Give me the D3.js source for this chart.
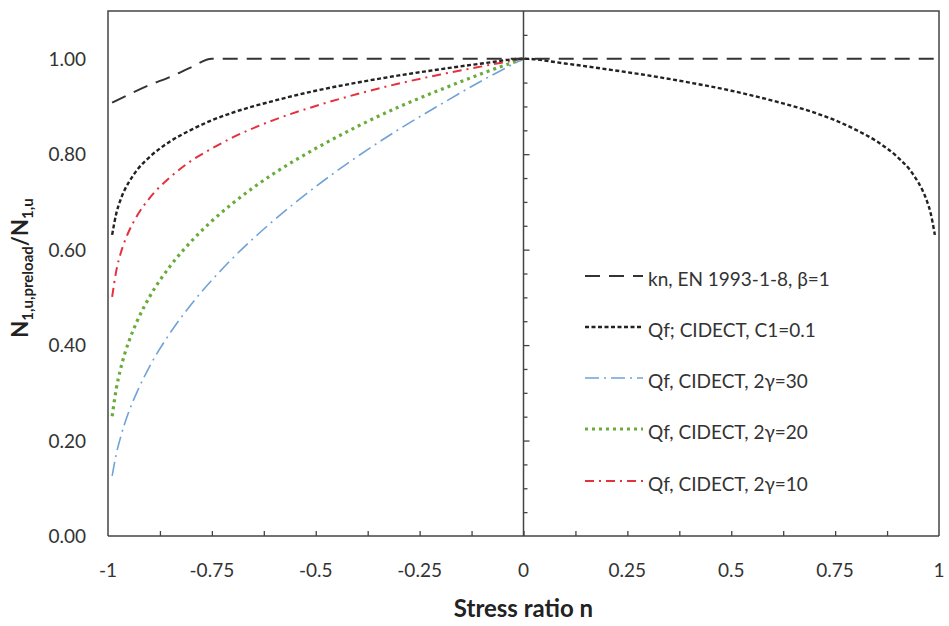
<!DOCTYPE html>
<html>
<head>
<meta charset="utf-8">
<script src="https://cdn.jsdelivr.net/npm/d3@7"></script>
<style>
  body { margin: 0; background: #fff; }
  svg { display: block; font-family: Lato, "Liberation Sans", sans-serif; }
</style>
</head>
<body>
<div id="chart"></div>
<script>
// stress ratio points (compression side)
const nLeft = [-0.99, -0.98, -0.97, -0.96, -0.95, -0.93, -0.9, -0.85, -0.8, -0.75, -0.7, -0.6, -0.5, -0.4, -0.3, -0.2, -0.1, 0];
const nRight = [0.1, 0.2, 0.3, 0.4, 0.5, 0.6, 0.7, 0.75, 0.8, 0.85, 0.9, 0.93, 0.95, 0.96, 0.97, 0.98, 0.99];

const knN = [-0.99, -0.95, -0.9, -0.85, -0.8, -0.75, 0, 1];
const knVals = [0.908, 0.925, 0.945, 0.962, 0.982, 1.0, 1.0, 1.0];

const qfC1Left = [0.631, 0.676, 0.704, 0.725, 0.741, 0.767, 0.794, 0.827, 0.851, 0.871, 0.887, 0.912, 0.933, 0.950, 0.965, 0.978, 0.990, 1.0];
const qfC1Right = [0.990, 0.978, 0.965, 0.950, 0.933, 0.912, 0.887, 0.871, 0.851, 0.827, 0.794, 0.767, 0.741, 0.725, 0.704, 0.676, 0.631];
const qfG30 = [0.126, 0.172, 0.206, 0.235, 0.260, 0.302, 0.355, 0.426, 0.485, 0.536, 0.582, 0.662, 0.732, 0.795, 0.852, 0.904, 0.954, 1.0];
const qfG20 = [0.251, 0.309, 0.349, 0.381, 0.407, 0.450, 0.501, 0.566, 0.617, 0.660, 0.697, 0.760, 0.812, 0.858, 0.899, 0.935, 0.969, 1.0];
const qfG10 = [0.501, 0.556, 0.591, 0.617, 0.638, 0.671, 0.708, 0.752, 0.786, 0.812, 0.835, 0.872, 0.901, 0.926, 0.948, 0.967, 0.984, 1.0];

const xTickLabels = ["-1", "-0.75", "-0.5", "-0.25", "0", "0.25", "0.5", "0.75", "1"];
const yTickLabels = ["0.00", "0.20", "0.40", "0.60", "0.80", "1.00"];
const legendLabels = ["kn, EN 1993-1-8, β=1", "Qf; CIDECT, C1=0.1", "Qf, CIDECT, 2γ=30", "Qf, CIDECT, 2γ=20", "Qf, CIDECT, 2γ=10"];

const width = 949, height = 626;
const plotLeft = 108, plotRight = 939, plotTop = 11, plotBottom = 536;

const svg = d3.select("#chart").append("svg")
  .attr("width", width).attr("height", height);

const x = d3.scaleLinear().domain([-1, 1]).range([plotLeft, plotRight]);
const y = d3.scaleLinear().domain([0, 1.1]).range([plotBottom, plotTop]);

const axisColor = "#444";

// frame (left, top, right)
svg.append("path")
  .attr("d", `M${plotLeft},${plotBottom}V${plotTop}H${plotRight}V${plotBottom}`)
  .attr("fill", "none").attr("stroke", axisColor).attr("stroke-width", 1.5);

// x axis at y=0, ticks pointing inward
const xAxis = svg.append("g")
  .attr("transform", `translate(0,${plotBottom})`)
  .call(d3.axisTop(x).tickValues(d3.range(-7, 8).map(i => i * 0.125)).tickSize(5).tickFormat(""));
xAxis.select(".domain").remove();
xAxis.selectAll("line").attr("stroke", axisColor).attr("stroke-width", 1.3);
svg.append("line")
  .attr("x1", plotLeft).attr("x2", plotRight).attr("y1", plotBottom).attr("y2", plotBottom)
  .attr("stroke", axisColor).attr("stroke-width", 1.5);

svg.append("g").selectAll("text").data(xTickLabels).enter()
  .append("text")
  .attr("x", d => x(+d)).attr("y", 577)
  .attr("text-anchor", "middle")
  .attr("font-size", 19).attr("fill", "#333")
  .text(d => d);

// vertical axis at n = 0 with minor/major ticks
const yAxis = svg.append("g")
  .attr("transform", `translate(${x(0)},0)`)
  .call(d3.axisRight(y).tickValues(d3.range(1, 22).map(i => i * 0.05)).tickSize(4).tickFormat(""));
yAxis.select(".domain").remove();
yAxis.selectAll(".tick line")
  .attr("x2", d => (Math.round(d * 100) % 20 === 0 ? 6 : 4))
  .attr("stroke", axisColor).attr("stroke-width", 1.3);
svg.append("line")
  .attr("x1", x(0)).attr("x2", x(0)).attr("y1", plotTop).attr("y2", plotBottom)
  .attr("stroke", axisColor).attr("stroke-width", 1.5);

svg.append("g").selectAll("text").data(yTickLabels).enter()
  .append("text")
  .attr("x", 86).attr("y", d => y(+d) + 7)
  .attr("text-anchor", "end")
  .attr("font-size", 19).attr("fill", "#333")
  .text(d => d);

// axis titles
svg.append("text")
  .attr("x", x(0)).attr("y", 617)
  .attr("text-anchor", "middle")
  .attr("font-size", 24).attr("font-weight", "bold").attr("fill", "#222")
  .text("Stress ratio n");

const yTitle = svg.append("text")
  .attr("transform", "translate(28,268) rotate(-90)")
  .attr("text-anchor", "middle")
  .attr("font-size", 22).attr("font-weight", "bold").attr("fill", "#222");
yTitle.append("tspan").text("N");
yTitle.append("tspan").attr("font-size", 15).attr("dy", 5).text("1,u,preload");
yTitle.append("tspan").attr("dy", -5).text("/N");
yTitle.append("tspan").attr("font-size", 15).attr("dy", 5).text("1,u");

// series
const series = [
  { name: legendLabels[0], n: knN, v: knVals, color: "#333", width: 2, dash: "15,9" },
  { name: legendLabels[1], n: nLeft.concat(nRight), v: qfC1Left.concat(qfC1Right), color: "#222", width: 2.4, dash: "4,2.5" },
  { name: legendLabels[2], n: nLeft, v: qfG30, color: "#6fa3d8", width: 1.6, dash: "14,5,2,5" },
  { name: legendLabels[3], n: nLeft, v: qfG20, color: "#6aac3c", width: 3.2, dash: "3,4" },
  { name: legendLabels[4], n: nLeft, v: qfG10, color: "#e5303e", width: 2, dash: "9,5,2,5" },
];

const line = d3.line()
  .x(d => x(d[0]))
  .y(d => y(d[1]))
  .curve(d3.curveMonotoneX);

const plot = svg.append("g");
series.slice().reverse().forEach(s => {
  plot.append("path")
    .datum(s.n.map((n, i) => [n, s.v[i]]))
    .attr("fill", "none")
    .attr("stroke", s.color)
    .attr("stroke-width", s.width)
    .attr("stroke-dasharray", s.dash)
    .attr("d", line);
});

// legend
const legendY = [280, 331, 382, 433, 485];
const legend = svg.append("g");
series.forEach((s, i) => {
  legend.append("line")
    .attr("x1", 585).attr("x2", 643)
    .attr("y1", legendY[i] - 4).attr("y2", legendY[i] - 4)
    .attr("stroke", s.color).attr("stroke-width", s.width)
    .attr("stroke-dasharray", s.dash);
  legend.append("text")
    .attr("x", 648).attr("y", legendY[i] + 6)
    .attr("font-size", 19).attr("fill", "#333")
    .text(s.name);
});
</script>
</body>
</html>
